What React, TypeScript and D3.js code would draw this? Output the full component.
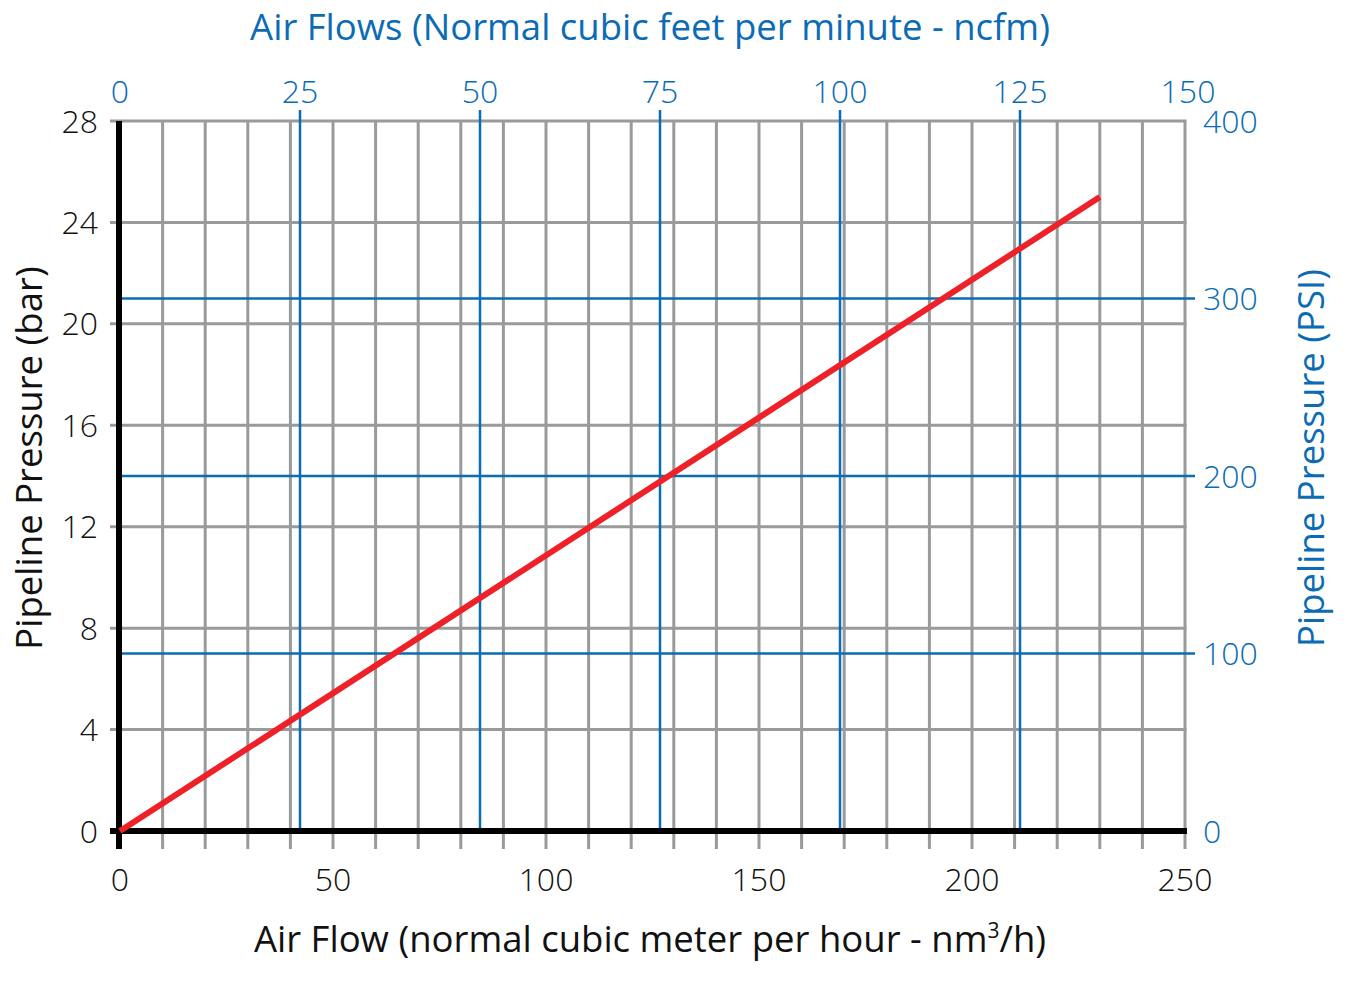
import React from "react";
import * as d3 from "d3";

const flowTicks = [0, 50, 100, 150, 200, 250];
const flowGrid = d3.range(0, 251, 10);
const barTicks = [0, 4, 8, 12, 16, 20, 24, 28];
const psiTicks = [0, 100, 200, 300, 400];
const psiLines = [100, 200, 300];
const ncfmTicks = [0, 25, 50, 75, 100, 125, 150];
const ncfmLines = [25, 50, 75, 100, 125];
const curveFlow = [0, 230];
const curveBar = [0, 25];

const W = 1350, H = 985;
const L = 120, R = 1185, T = 121, B = 831;
const BLUE = "#0b6cb5";
const GRAY = "#999a9c";
const FONT = "'Open Sans', 'DejaVu Sans', sans-serif";

export default function App() {
  const x = d3.scaleLinear().domain([0, 250]).range([L, R]);
  const xTop = d3.scaleLinear().domain([0, 150]).range([L, L + 150 * 7.2]);
  const yBar = d3.scaleLinear().domain([0, 28]).range([B, T]);
  const yPsi = d3.scaleLinear().domain([0, 400]).range([B, T]);
  const pts: [number, number][] = curveFlow.map((f, i) => [f, curveBar[i]]);
  const line = d3.line<[number, number]>().x(d => x(d[0])).y(d => yBar(d[1]));
  const midY = (T + B) / 2 - 18;

  return (
    <svg width={W} height={H} style={{ display: "block", position: "absolute", left: 0, top: 0, background: "#fff" }} fontFamily={FONT}>
      {flowGrid.map(v => (
        <line key={"gv" + v} x1={x(v)} x2={x(v)} y1={T} y2={849} stroke={GRAY} strokeWidth={3} />
      ))}
      {barTicks.map(v => (
        <line key={"gh" + v} x1={110} x2={R + 1.5} y1={yBar(v)} y2={yBar(v)} stroke={GRAY} strokeWidth={3} />
      ))}
      {ncfmLines.map(v => (
        <line key={"bv" + v} x1={xTop(v)} x2={xTop(v)} y1={110} y2={B} stroke={BLUE} strokeWidth={2.5} />
      ))}
      {psiLines.map(v => (
        <line key={"bh" + v} x1={L} x2={1195} y1={yPsi(v)} y2={yPsi(v)} stroke={BLUE} strokeWidth={2.5} />
      ))}
      <line x1={L - 1} x2={L - 1} y1={T} y2={849} stroke="#000" strokeWidth={6} />
      <line x1={110} x2={R + 2} y1={B} y2={B} stroke="#000" strokeWidth={6} />
      <path d={line(pts) || ""} fill="none" stroke="#ee2128" strokeWidth={6} />
      <g fontWeight={300} fontSize={32}>
        {barTicks.map(v => (
          <text key={"lt" + v} x={98} y={yBar(v)} dy="0.36em" textAnchor="end" fill="#111">{v}</text>
        ))}
        {psiTicks.map(v => (
          <text key={"rt" + v} x={1203} y={yPsi(v)} dy="0.36em" textAnchor="start" fill={BLUE}>{v}</text>
        ))}
        {flowTicks.map(v => (
          <text key={"bt" + v} x={x(v)} y={891} textAnchor="middle" fill="#111">{v}</text>
        ))}
        {ncfmTicks.map(v => (
          <text key={"tt" + v} x={Math.min(xTop(v), R + 3)} y={103} textAnchor="middle" fill={BLUE}>{v}</text>
        ))}
      </g>
      <text x={650} y={40} textAnchor="middle" fontSize={36.5} fill={BLUE}>Air Flows (Normal cubic feet per minute - ncfm)</text>
      <text x={650} y={952} textAnchor="middle" fontSize={36.5} fill="#111">
        Air Flow (normal cubic meter per hour - nm<tspan baselineShift="super" fontSize={21}>3</tspan>/h)
      </text>
      <text transform={`translate(42,${midY}) rotate(-90)`} textAnchor="middle" fontSize={36.5} fill="#111">Pipeline Pressure (bar)</text>
      <text transform={`translate(1324,${midY}) rotate(-90)`} textAnchor="middle" fontSize={36.5} fill={BLUE}>Pipeline Pressure (PSI)</text>
    </svg>
  );
}
